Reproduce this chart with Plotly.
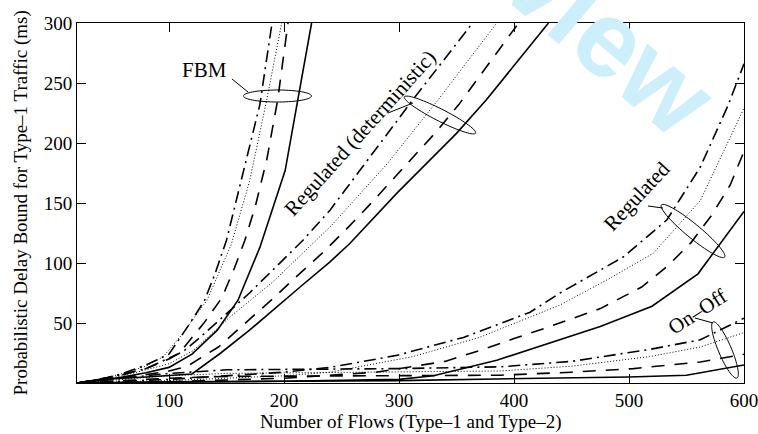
import numpy as np
import plotly.graph_objects as go

# ---------------- data ----------------
x_ticks = [100, 200, 300, 400, 500, 600]
y_ticks = [50, 100, 150, 200, 250, 300]

# FBM group
fbm_solid_x = [20, 40, 60, 80, 100, 120, 142, 160, 179, 201, 212, 224]
fbm_solid_y = [0, 2, 5, 8.5, 13, 24, 44, 69, 113, 177, 236, 300]
fbm_dash_x = [20, 40, 60, 80, 100, 109, 130, 146, 157, 166, 175, 185, 194.5, 203.5]
fbm_dash_y = [0, 3, 7, 12, 20, 25, 49.5, 71, 96, 119, 147, 186, 236, 300]
fbm_dot_x = [20, 40, 60, 80, 95, 111, 133, 154, 170, 185, 198]
fbm_dot_y = [0, 3, 8, 14, 22, 40, 69, 115, 168, 236, 300]
fbm_dashdot_x = [20, 40, 60, 80, 100, 117, 131, 140, 150, 158, 168, 179, 189.6]
fbm_dashdot_y = [0, 3, 8, 15, 24, 48, 69, 91, 119, 150, 188, 232, 300]

# Regulated (deterministic) group
regdet_solid_x = [20, 40, 80, 120, 145, 170, 214, 240, 257, 298, 350, 376, 430]
regdet_solid_y = [0, 3, 5, 7.5, 25, 44, 80, 101, 116, 158, 208, 236, 300]
regdet_dash_x = [20, 40, 80, 100, 116, 143, 170, 190, 210, 233, 253, 274, 294, 314, 333, 352, 388, 404]
regdet_dash_y = [0, 3, 7, 10, 14, 30, 53, 70, 88, 108, 127, 148, 169, 190, 210, 232, 279, 300]
regdet_dot_x = [20, 40, 60, 100, 121, 153, 190, 228, 241, 290, 334, 385]
regdet_dot_y = [0, 3, 6, 16, 27, 55, 84, 119, 131, 183, 236, 300]
regdet_dashdot_x = [20, 50, 80, 100, 112, 127, 151, 170, 216.5, 240, 312, 364]
regdet_dashdot_y = [0, 5, 12, 21, 26, 38, 59, 75, 119, 144, 236, 300]

# Regulated group
reg_solid_x = [20, 100, 200, 300, 330, 385, 423, 475, 520, 560, 600]
reg_solid_y = [0, 0.5, 1.5, 3, 6, 19, 31, 47, 64, 91, 143]
reg_dash_x = [20, 100, 200, 280, 340, 370, 400, 428, 475, 511, 533, 554, 572, 588, 600]
reg_dash_y = [0, 1, 4, 9, 18, 27, 37, 46, 62, 80, 97, 117, 140, 165, 193]
reg_dot_x = [20, 100, 200, 240, 312, 370, 388, 440, 481, 521, 562, 600]
reg_dot_y = [0, 2, 6, 9, 22, 38, 45, 65, 86, 108, 152, 229]
reg_dashdot_x = [20, 100, 200, 240, 298, 356, 414, 440, 495, 533, 562, 586, 600]
reg_dashdot_y = [0, 3, 9, 13, 23, 38, 59, 75, 105, 136, 180, 231, 266]

# On-Off group
onoff_solid_x = [20, 100, 200, 300, 423, 500, 550, 600]
onoff_solid_y = [0, 1, 1.5, 2, 4, 5, 6.5, 15]
onoff_dash_x = [20, 60, 100, 150, 300, 388, 450, 504, 562, 600]
onoff_dash_y = [0, 2, 4, 5.5, 6, 6.5, 9, 12, 17.5, 24]
onoff_dot_x = [20, 60, 100, 150, 300, 388, 450, 518, 562, 600]
onoff_dot_y = [0, 3, 6, 8, 9, 10, 14, 22, 30, 42]
onoff_dashdot_x = [20, 60, 100, 150, 300, 388, 450, 518, 562, 600]
onoff_dashdot_y = [0, 4, 8, 11, 12, 13.5, 18, 28, 36, 54]

# ---------------- layout geometry ----------------
W, H = 758, 434
ML, MR, MT, MB = 77, 14, 23, 51
PW, PH = W - ML - MR, H - MT - MB
X0, X1 = 20, 600
Y0, Y1 = 0, 300
FONT = "Liberation Serif"


def dx(px):
    return X0 + (px - ML) / PW * (X1 - X0)


def dy(py):
    return Y1 - (py - MT) / PH * (Y1 - Y0)


styles = {
    "solid": dict(dash="solid", width=1.6),
    "dash": dict(dash="13px,10px", width=1.6),
    "dot": dict(dash="1px,2px", width=1.0),
    "dashdot": dict(dash="12px,5px,2px,5px", width=1.6),
}

series = [
    (fbm_solid_x, fbm_solid_y, "solid"), (fbm_dash_x, fbm_dash_y, "dash"),
    (fbm_dot_x, fbm_dot_y, "dot"), (fbm_dashdot_x, fbm_dashdot_y, "dashdot"),
    (regdet_solid_x, regdet_solid_y, "solid"), (regdet_dash_x, regdet_dash_y, "dash"),
    (regdet_dot_x, regdet_dot_y, "dot"), (regdet_dashdot_x, regdet_dashdot_y, "dashdot"),
    (reg_solid_x, reg_solid_y, "solid"), (reg_dash_x, reg_dash_y, "dash"),
    (reg_dot_x, reg_dot_y, "dot"), (reg_dashdot_x, reg_dashdot_y, "dashdot"),
    (onoff_solid_x, onoff_solid_y, "solid"), (onoff_dash_x, onoff_dash_y, "dash"),
    (onoff_dot_x, onoff_dot_y, "dot"), (onoff_dashdot_x, onoff_dashdot_y, "dashdot"),
]

fig = go.Figure()
for xs, ys, st in series:
    fig.add_trace(go.Scatter(x=xs, y=ys, mode="lines",
                             line=dict(color="black", **styles[st]),
                             showlegend=False, hoverinfo="skip"))


def ellipse_path(cx, cy, a, b, ang_deg, n=72):
    th = np.deg2rad(ang_deg)
    t = np.linspace(0, 2 * np.pi, n)
    px = cx + a * np.cos(t) * np.cos(th) - b * np.sin(t) * np.sin(th)
    py = cy + a * np.cos(t) * np.sin(th) + b * np.sin(t) * np.cos(th)
    pts = [f"{dx(u):.3f},{dy(v):.3f}" for u, v in zip(px, py)]
    return "M" + " L".join(pts) + " Z"


shapes = []
for (cx, cy, a, b, ang) in [(277.5, 96, 34, 6, 0), (440, 115, 40, 6, 27),
                            (693, 231, 41, 7, 39.5), (725, 350, 30.5, 6.5, 67)]:
    shapes.append(dict(type="path", path=ellipse_path(cx, cy, a, b, ang),
                       xref="x", yref="y", line=dict(color="black", width=1)))

for (x0, y0, x1, y1) in [(232, 79, 248, 92), (388, 113, 413, 103),
                         (648, 206, 663, 208), (695, 318, 713, 323)]:
    shapes.append(dict(type="line", xref="x", yref="y", x0=dx(x0), y0=dy(y0),
                       x1=dx(x1), y1=dy(y1), line=dict(color="black", width=1)))

annotations = []
# watermark
annotations.append(dict(text="<b>Review</b>", xref="paper", yref="paper",
                        x=(557 - ML) / PW, y=(H - MB - (-7)) / PH,
                        xanchor="center", yanchor="middle", showarrow=False,
                        textangle=40, font=dict(family="Liberation Sans", size=108, color="#cdeefb")))
for (txt, cx, cy, ang) in [("FBM", 204, 70, 0),
                           ("Regulated (deterministic)", 360, 133, -48),
                           ("Regulated", 637, 196, -47),
                           ("On\u2013Off", 697, 312, -33)]:
    annotations.append(dict(text=txt, xref="x", yref="y", x=dx(cx), y=dy(cy),
                            xanchor="center", yanchor="middle", showarrow=False,
                            textangle=ang, font=dict(family=FONT, size=21, color="black")))

annotations.append(dict(text="Number of Flows (Type\u20131 and Type\u20132)", xref="paper", yref="paper",
                        x=0.5, y=(H - MB - 421.5) / PH, xanchor="center", yanchor="middle",
                        showarrow=False, font=dict(family=FONT, size=19, color="black")))
annotations.append(dict(text="Probabilistic Delay Bound for Type\u20131 Traffic (ms)", xref="paper", yref="paper",
                        x=(20.5 - ML) / PW, y=0.5, xanchor="center", yanchor="middle",
                        textangle=-90, showarrow=False, font=dict(family=FONT, size=19, color="black")))

axis_common = dict(showline=True, linecolor="black", linewidth=1, mirror="ticks",
                   ticks="inside", ticklen=9, tickwidth=1, tickcolor="black",
                   showgrid=False, zeroline=False, ticklabeloverflow="allow",
                   automargin=False,
                   tickfont=dict(family=FONT, size=19, color="black"))

fig.update_layout(
    width=W, height=H,
    margin=dict(l=ML, r=MR, t=MT, b=MB, autoexpand=False),
    paper_bgcolor="white", plot_bgcolor="white",
    xaxis=dict(range=[X0, X1], tickvals=x_ticks, **axis_common),
    yaxis=dict(range=[Y0, Y1], tickvals=y_ticks, **axis_common),
    shapes=shapes, annotations=annotations,
)

fig.write_html("out.html", config={"displayModeBar": False},
               post_script="document.body.style.margin='0px';")
